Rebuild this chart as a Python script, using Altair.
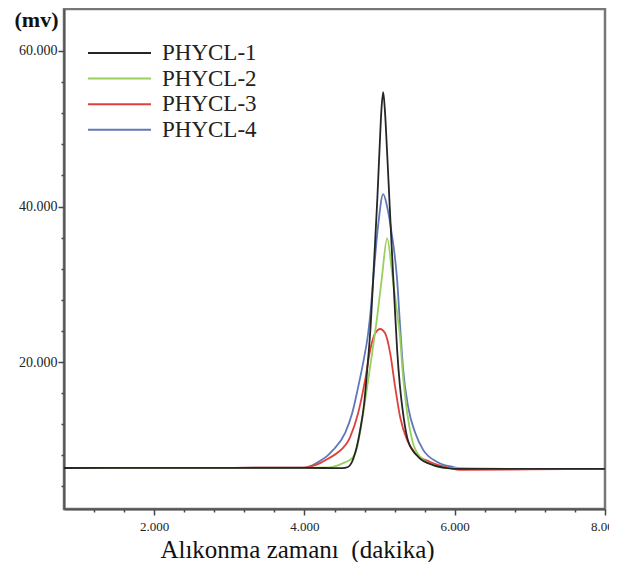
import altair as alt
import pandas as pd

series_names = ["PHYCL-1", "PHYCL-2", "PHYCL-3", "PHYCL-4"]
series_colors = ["#262626", "#98cf5e", "#e0403c", "#5f78b8"]

# PHYCL-1 (black)
t1 = [0.8, 2.0, 3.0, 4.0, 4.5, 4.58, 4.675, 4.741, 4.795, 4.835, 4.875, 4.93, 4.97, 5.00,
      5.025, 5.048, 5.07, 5.10, 5.13, 5.16, 5.20, 5.234, 5.27, 5.314, 5.381, 5.514, 5.713, 5.9, 6.1, 7.0, 8.0]
v1 = [6370, 6400, 6400, 6400, 6350, 6500, 8300, 11250, 14700, 19000, 23800, 33500, 41000, 47500,
      52500, 54700, 52500, 47000, 41000, 35000, 27500, 21500, 17000, 13300, 9800, 7800, 6750, 6370, 6250, 6250, 6250]

# PHYCL-2 (green)
t2 = [0.8, 2.0, 3.0, 4.0, 4.342, 4.515, 4.635, 4.701, 4.768, 4.835, 4.901, 4.968, 5.03, 5.101,
      5.167, 5.234, 5.274, 5.301, 5.367, 5.434, 5.54, 5.713, 5.9, 7.0, 8.0]
v2 = [6370, 6400, 6400, 6400, 6450, 7000, 7650, 9050, 12550, 16800, 21150, 25800, 30800, 35900,
      31400, 26300, 23000, 19500, 13450, 9950, 7800, 6750, 6370, 6250, 6250]

# PHYCL-3 (red)
t3 = [0.8, 2.0, 3.0, 4.0, 4.1, 4.209, 4.32, 4.435, 4.608, 4.715, 4.808, 4.875, 4.941, 5.008, 5.074, 5.141,
      5.207, 5.274, 5.367, 5.474, 5.673, 5.94, 6.07, 7.0, 8.0]
v3 = [6370, 6400, 6400, 6420, 6600, 7000, 7600, 8300, 10350, 13450, 17700, 21550, 23700, 24250, 23700, 21150,
      16800, 12900, 9950, 8300, 7150, 6370, 6150, 6200, 6250]

# PHYCL-4 (blue)
t4 = [0.8, 2.0, 3.0, 4.0, 4.1, 4.209, 4.3, 4.382, 4.542, 4.635, 4.715, 4.781, 4.848, 4.875, 4.914,
      4.98, 5.048, 5.10, 5.154, 5.234, 5.274, 5.314, 5.381, 5.474, 5.58, 5.767, 5.98, 6.2, 7.0, 8.0]
v4 = [6370, 6400, 6400, 6420, 6700, 7300, 7900, 8700, 10900, 13400, 16800, 19900, 23700, 26000, 30500,
      37500, 41600, 40000, 37000, 30500, 24500, 19000, 14200, 10900, 8700, 7150, 6500, 6250, 6250, 6250]

x_ticks = [1.2, 1.6, 2.0, 2.4, 2.8, 3.2, 3.6, 4.0, 4.4, 4.8, 5.2, 5.6, 6.0, 6.4, 6.8, 7.2, 7.6, 8.0]
y_ticks = [4000, 8000, 12000, 16000, 20000, 24000, 28000, 32000, 36000, 40000, 44000, 48000,
           52000, 56000, 60000]

rows = []
for name, ts, vs in [("PHYCL-1", t1, v1), ("PHYCL-2", t2, v2), ("PHYCL-3", t3, v3), ("PHYCL-4", t4, v4)]:
    for t, v in zip(ts, vs):
        rows.append({"series": name, "t": t, "mv": v})
df = pd.DataFrame(rows)

x_major = "abs(datum.value - round(datum.value / 2) * 2) < 0.001"
y_major = "datum.value % 20000 === 0"

x_axis = alt.Axis(
    values=x_ticks,
    labelExpr=f"{x_major} ? format(datum.value, '.3f') : ''",
    tickSize={"condition": {"test": x_major, "value": 6}, "value": 3},
    labelFlush=False, labelOverlap=False, grid=False,
    labelFont="Liberation Serif", labelFontSize=13, labelColor="#222", labelPadding=5,
    domainColor="#555", domainWidth=2, tickColor="#444", tickWidth=1.5,
    title="Alıkonma zamanı\u00a0 (dakika)", titleFont="Liberation Serif", titleFontSize=25,
    titleFontWeight="normal", titleColor="#111", titleX=233, titleY=48,
    titleAlign="center", titleBaseline="alphabetic",
)
y_axis = alt.Axis(
    values=y_ticks,
    labelExpr=f"{y_major} ? replace(format(datum.value, ',.0f'), ',', '.') : ''",
    tickSize={"condition": {"test": y_major, "value": 6}, "value": 3},
    labelFlush=False, labelOverlap=False, grid=False,
    labelFont="Liberation Serif", labelFontSize=14, labelColor="#222", labelPadding=1,
    domainColor="#555", domainWidth=2, tickColor="#444", tickWidth=1.5,
    title="(mv)", titleFont="Liberation Serif", titleFontSize=22, titleFontWeight="bold",
    titleColor="#111", titleAngle=0, titleX=-28, titleY=17, titleAlign="center",
    titleBaseline="alphabetic",
)
legend = alt.Legend(
    title=None, orient="none", legendX=23, legendY=32.5, symbolType="stroke",
    symbolSize=3969, symbolStrokeWidth=2, clipHeight=23, rowPadding=1.6, labelOffset=10,
    labelFont="Liberation Serif", labelFontSize=23, labelColor="#222", padding=0, labelLimit=0,
)

base = alt.Chart(df)
layers = []
for name in ["PHYCL-4", "PHYCL-3", "PHYCL-2", "PHYCL-1"]:
    layers.append(
        base.transform_filter(alt.datum.series == name)
        .mark_line(strokeWidth=1.8, interpolate="monotone")
        .encode(
            x=alt.X("t:Q", scale=alt.Scale(domain=[0.8, 8.0], nice=False, zero=False), axis=x_axis),
            y=alt.Y("mv:Q", scale=alt.Scale(domain=[1100, 65400], nice=False, zero=False), axis=y_axis),
            color=alt.Color("series:N", scale=alt.Scale(domain=series_names, range=series_colors),
                            legend=legend),
        )
    )

chart = (
    alt.layer(*layers)
    .properties(
        width=541, height=500,
        autosize=alt.AutoSizeParams(type="none"),
        padding={"left": 56, "top": 1, "right": 4, "bottom": 53},
    )
    .configure_view(stroke="#777", strokeWidth=2.5)
)

chart.save("out.html", embed_options={"renderer": "svg", "actions": False})
